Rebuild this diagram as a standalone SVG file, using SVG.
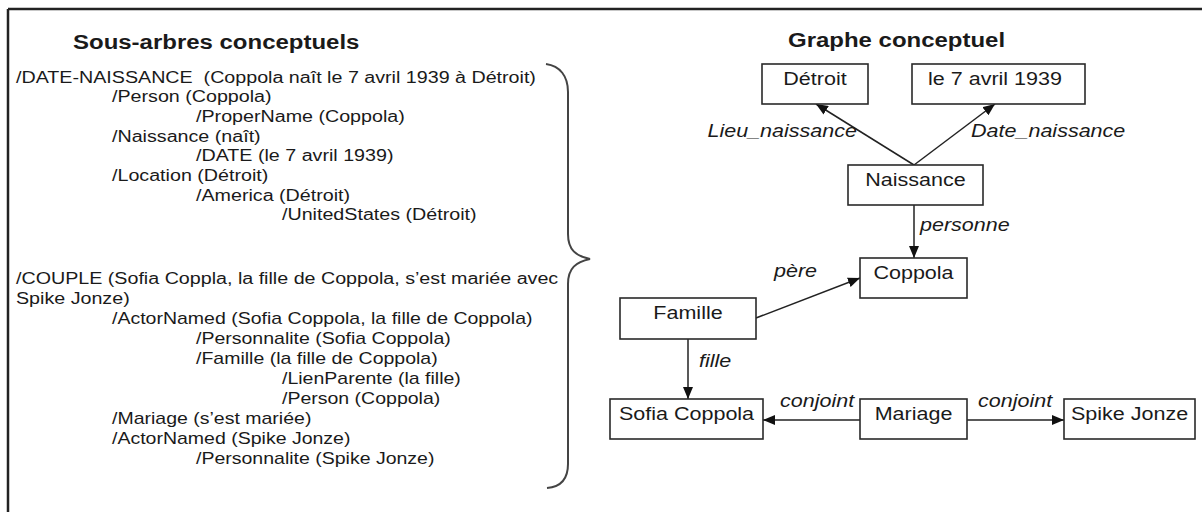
<svg xmlns="http://www.w3.org/2000/svg" width="1202" height="512" viewBox="0 0 1202 512">
<defs>
<style>
text{font-family:"Liberation Sans",Arial,sans-serif;fill:#1a1a1a}
.title{font-size:19.5px;font-weight:bold}
.tree{font-size:16px}
.node{font-size:17.5px;text-anchor:middle}
.lab{font-size:17.5px;font-style:italic}
.box{fill:#fff;stroke:#2a2a2a;stroke-width:1.6}
.edge{fill:none;stroke:#222;stroke-width:1.5}
.frame{stroke:#222;stroke-width:2.5;fill:none}
.brace{fill:none;stroke:#444;stroke-width:2}
</style>
<marker id="ah" viewBox="0 0 12 10" refX="12" refY="5" markerWidth="12" markerHeight="10" markerUnits="userSpaceOnUse" orient="auto">
<path d="M0,0 L12,5 L0,10 Z" fill="#111"/>
</marker>
</defs>
<rect width="1202" height="512" fill="#fff"/>
<g id="frame">
<line class="frame" x1="8" y1="9" x2="1202" y2="9"/>
<line class="frame" x1="8" y1="9" x2="8" y2="512"/>
</g>
<g id="left-panel">
<text class="title" transform="translate(73,49) scale(1.23,1)">Sous-arbres conceptuels</text>
<g id="tree1">
<text class="tree" transform="translate(16,82.5) scale(1.23,1)">/DATE-NAISSANCE&#160; (Coppola naît le 7 avril 1939 à Détroit)</text>
<text class="tree" transform="translate(112,102.2) scale(1.23,1)">/Person (Coppola)</text>
<text class="tree" transform="translate(196,121.9) scale(1.23,1)">/ProperName (Coppola)</text>
<text class="tree" transform="translate(112,141.6) scale(1.23,1)">/Naissance (naît)</text>
<text class="tree" transform="translate(196,161.3) scale(1.23,1)">/DATE (le 7 avril 1939)</text>
<text class="tree" transform="translate(112,181) scale(1.23,1)">/Location (Détroit)</text>
<text class="tree" transform="translate(196,200.7) scale(1.23,1)">/America (Détroit)</text>
<text class="tree" transform="translate(282,220.4) scale(1.23,1)">/UnitedStates (Détroit)</text>
</g>
<g id="tree2">
<text class="tree" transform="translate(16,283.5) scale(1.23,1)">/COUPLE (Sofia Coppla, la fille de Coppola, s’est mariée avec</text>
<text class="tree" transform="translate(16,303.5) scale(1.23,1)">Spike Jonze)</text>
<text class="tree" transform="translate(112,323.5) scale(1.22,1)">/ActorNamed (Sofia Coppola, la fille de Coppola)</text>
<text class="tree" transform="translate(196,343.5) scale(1.22,1)">/Personnalite (Sofia Coppola)</text>
<text class="tree" transform="translate(196,363.5) scale(1.22,1)">/Famille (la fille de Coppola)</text>
<text class="tree" transform="translate(282,383.5) scale(1.22,1)">/LienParente (la fille)</text>
<text class="tree" transform="translate(282,403.5) scale(1.22,1)">/Person (Coppola)</text>
<text class="tree" transform="translate(112,423.5) scale(1.22,1)">/Mariage (s’est mariée)</text>
<text class="tree" transform="translate(112,443.5) scale(1.22,1)">/ActorNamed (Spike Jonze)</text>
<text class="tree" transform="translate(196,463.5) scale(1.22,1)">/Personnalite (Spike Jonze)</text>
</g>
<path id="brace" class="brace" d="M546,64 C560,66 568,76 568,92 L568,234 C568,250 576,256 590,259 C576,262 568,268 568,284 L568,464 C568,480 560,487 547,488"/>
</g>
<text class="title" transform="translate(788,47) scale(1.23,1)">Graphe conceptuel</text>
<g id="connectors">
<line class="edge" x1="914" y1="165" x2="816" y2="104" marker-end="url(#ah)"/>
<line class="edge" x1="914" y1="165" x2="995" y2="104" marker-end="url(#ah)"/>
<line class="edge" x1="914" y1="205" x2="914" y2="258" marker-end="url(#ah)"/>
<line class="edge" x1="756" y1="318" x2="860" y2="278" marker-end="url(#ah)"/>
<line class="edge" x1="688" y1="339" x2="688" y2="399" marker-end="url(#ah)"/>
<line class="edge" x1="860" y1="420" x2="763" y2="420" marker-end="url(#ah)"/>
<line class="edge" x1="967" y1="420" x2="1064" y2="420" marker-end="url(#ah)"/>
<text class="lab" text-anchor="end" transform="translate(857,137) scale(1.23,1)">Lieu_naissance</text>
<text class="lab" transform="translate(971,137) scale(1.23,1)">Date_naissance</text>
<text class="lab" transform="translate(920,231) scale(1.23,1)">personne</text>
<text class="lab" transform="translate(774,277) scale(1.23,1)">père</text>
<text class="lab" transform="translate(699,367) scale(1.23,1)">fille</text>
<text class="lab" transform="translate(780,407) scale(1.23,1)">conjoint</text>
<text class="lab" transform="translate(978,407) scale(1.23,1)">conjoint</text>
</g>
<g id="node-detroit">
<rect class="box" x="762" y="64" width="106" height="40"/>
<text class="node" transform="translate(815,85) scale(1.23,1)">Détroit</text>
</g>
<g id="node-date">
<rect class="box" x="912" y="64" width="173" height="40"/>
<text class="node" transform="translate(995,85) scale(1.23,1)">le 7 avril 1939</text>
</g>
<g id="node-naissance">
<rect class="box" x="848" y="165" width="135" height="40"/>
<text class="node" transform="translate(915.5,186) scale(1.23,1)">Naissance</text>
</g>
<g id="node-coppola">
<rect class="box" x="860" y="258" width="107" height="40"/>
<text class="node" transform="translate(913.5,279) scale(1.23,1)">Coppola</text>
</g>
<g id="node-famille">
<rect class="box" x="620" y="298" width="136" height="41"/>
<text class="node" transform="translate(688,319) scale(1.23,1)">Famille</text>
</g>
<g id="node-sofia">
<rect class="box" x="610" y="399" width="153" height="40"/>
<text class="node" transform="translate(686.5,420) scale(1.23,1)">Sofia Coppola</text>
</g>
<g id="node-mariage">
<rect class="box" x="860" y="399" width="107" height="40"/>
<text class="node" transform="translate(913.5,420) scale(1.23,1)">Mariage</text>
</g>
<g id="node-spike">
<rect class="box" x="1064" y="399" width="131" height="40"/>
<text class="node" transform="translate(1129.5,420) scale(1.23,1)">Spike Jonze</text>
</g>
</svg>
